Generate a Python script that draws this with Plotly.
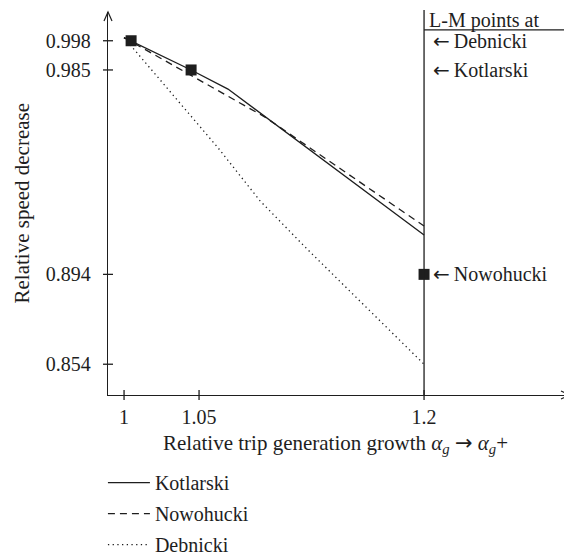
import plotly.graph_objects as go

# ---- data ----
x_ticks = [1.0, 1.05, 1.2]
x_tick_labels = ["1", "1.05", "1.2"]
y_ticks = [0.854, 0.894, 0.985, 0.998]
y_tick_labels = ["0.854", "0.894", "0.985", "0.998"]

kot_x = [1.0, 1.0447, 1.0693, 1.2]
kot_y = [0.9994, 0.9850, 0.9765, 0.9115]

now_x = [1.0, 1.044, 1.094, 1.2]
now_y = [0.9994, 0.9827, 0.9640, 0.9155]

deb_x = [1.0, 1.0373, 1.0627, 1.0907, 1.122, 1.2]
deb_y = [0.9994, 0.9703, 0.9503, 0.9267, 0.9053, 0.854]

lm_x = [1.0047, 1.0447, 1.2]
lm_y = [0.998, 0.985, 0.894]
lm_labels = ["Debnicki", "Kotlarski", "Nowohucki"]

x_range = [0.9893, 1.2973]
y_range = [0.8403, 1.0108]

FONT = "Liberation Serif"
INK = "#1e1e1e"
ARROW = '<span style="font-family:DejaVu Sans">\u2190</span>'
RARROW = '<span style="font-family:DejaVu Sans">\u2192</span>'

fig = go.Figure()
fig.add_trace(go.Scatter(x=kot_x, y=kot_y, mode="lines", name="Kotlarski",
                         line=dict(color=INK, width=1.3), legendgroup="a"))
fig.add_trace(go.Scatter(x=now_x, y=now_y, mode="lines", name="Nowohucki",
                         line=dict(color=INK, width=1.3, dash="7px,5px"), legendgroup="b"))
fig.add_trace(go.Scatter(x=deb_x, y=deb_y, mode="lines", name="Debnicki",
                         line=dict(color=INK, width=1.3, dash="1.3px,3.4px"), legendgroup="c"))
fig.add_trace(go.Scatter(x=lm_x, y=lm_y, mode="markers", showlegend=False,
                         marker=dict(symbol="square", size=11, color=INK)))

shapes = []
# cross ticks
for v in x_ticks:
    shapes.append(dict(type="line", xref="x", x0=v, x1=v, yref="paper", ysizemode="pixel",
                       yanchor=0, y0=-5, y1=5, line=dict(color=INK, width=1.3)))
for v in y_ticks:
    shapes.append(dict(type="line", yref="y", y0=v, y1=v, xref="paper", xsizemode="pixel",
                       xanchor=0, x0=-5, x1=5, line=dict(color=INK, width=1.3)))
# arrowheads on axes
shapes.append(dict(type="path", xref="paper", yref="paper", xsizemode="pixel", ysizemode="pixel",
                   xanchor=0, yanchor=1, path="M -4,-9 L 0,0 L 4,-9",
                   line=dict(color=INK, width=1.2)))
shapes.append(dict(type="path", xref="paper", yref="paper", xsizemode="pixel", ysizemode="pixel",
                   xanchor=1, yanchor=0, path="M -9,-4 L 0,0 L -9,4",
                   line=dict(color=INK, width=1.2)))
# vertical line at 1.2 and header rule
shapes.append(dict(type="line", xref="x", x0=x_ticks[-1], x1=x_ticks[-1], yref="paper", y0=0, y1=1.005,
                   line=dict(color=INK, width=1.3)))
shapes.append(dict(type="line", xref="x", x0=x_ticks[-1], x1=x_range[1], yref="y", y0=1.0028, y1=1.0028,
                   line=dict(color=INK, width=1.3)))

annotations = [
    dict(text="L-M points at", xref="x", x=x_ticks[-1], xshift=4, xanchor="left",
         yref="paper", y=1.0104, yanchor="top", borderpad=0, showarrow=False, font=dict(size=20)),
]
for lbl, yv in zip(lm_labels, lm_y):
    annotations.append(dict(text=ARROW + "\u2009" + lbl, xref="x", x=x_ticks[-1], xshift=7, xanchor="left",
                            yref="y", y=yv, yanchor="middle", showarrow=False, font=dict(size=20)))
annotations.append(dict(text="Relative speed decrease", xref="paper", yref="paper", x=0, xshift=-87,
                        xanchor="center", y=0.5, textangle=-90, borderpad=0, showarrow=False,
                        font=dict(size=21)))
annotations.append(dict(text="Relative trip generation growth <i>\u03b1<sub>g</sub></i> " + RARROW
                        + " <i>\u03b1<sub>g</sub></i>+",
                        xref="paper", yref="paper", x=0.5, xshift=-4, y=0, yshift=-49, yanchor="middle",
                        showarrow=False, font=dict(size=21)))

# page body adds an 8px margin, so the figure is 8px smaller and margins shifted
fig.update_layout(
    width=564, height=550,
    margin=dict(l=100, r=2, t=4, b=163, autoexpand=False),
    paper_bgcolor="white", plot_bgcolor="white",
    font=dict(family=FONT, size=20, color=INK),
    showlegend=True,
    legend=dict(x=-0.011, xanchor="left", y=-0.178, yanchor="top", font=dict(size=20),
                tracegroupgap=2, itemwidth=42, bgcolor="rgba(0,0,0,0)"),
    shapes=shapes, annotations=annotations,
    xaxis=dict(range=x_range, tickvals=x_ticks, ticktext=x_tick_labels, ticks="",
               showgrid=False, zeroline=False, showline=True, linecolor=INK, linewidth=1.3,
               ticklabelstandoff=4, fixedrange=True),
    yaxis=dict(range=y_range, tickvals=y_ticks, ticktext=y_tick_labels, ticks="",
               showgrid=False, zeroline=False, showline=True, linecolor=INK, linewidth=1.3,
               ticklabelstandoff=12, fixedrange=True),
)

fig.write_html("out.html")
